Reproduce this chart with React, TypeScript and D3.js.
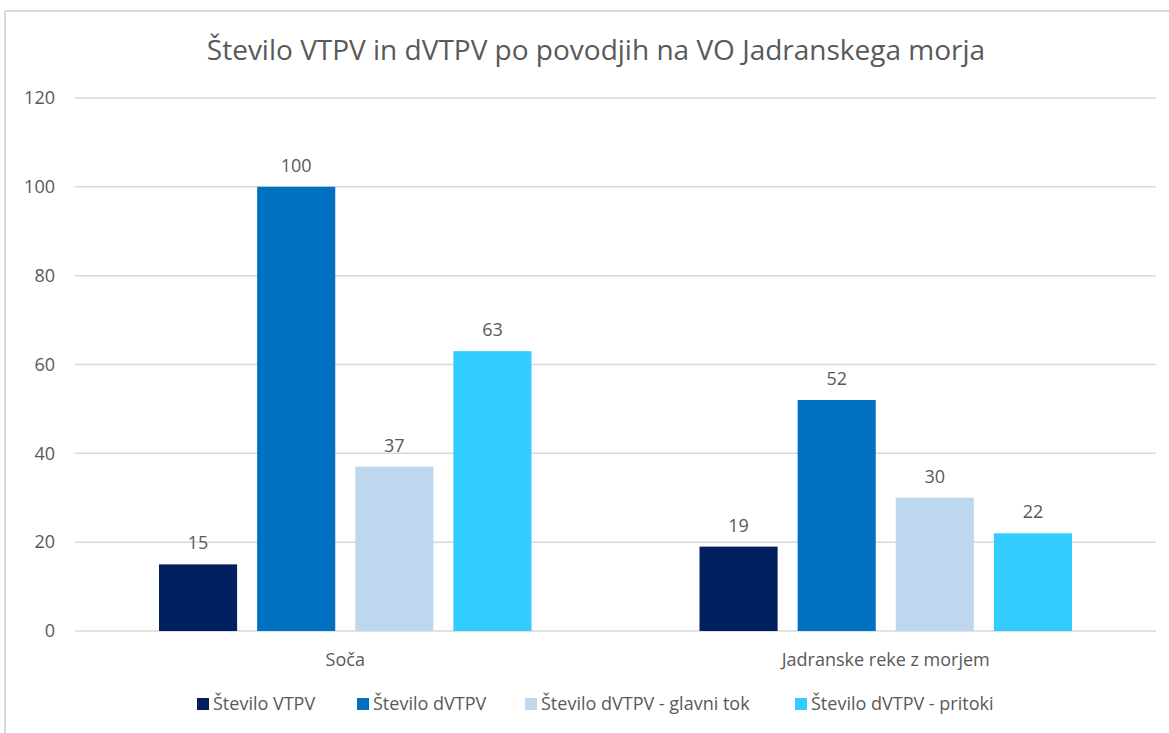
import React from "react";
import { scaleBand, scaleLinear, scaleOrdinal } from "d3";

const categories = ["Soča", "Jadranske reke z morjem"];
const seriesNames = [
  "Število VTPV",
  "Število dVTPV",
  "Število dVTPV - glavni tok",
  "Število dVTPV - pritoki",
];
const vtpv = [15, 19];
const dvtpv = [100, 52];
const glavniTok = [37, 30];
const pritoki = [63, 22];
const yTicks = [0, 20, 40, 60, 80, 100, 120];
const seriesColors = ["#002060", "#0070C0", "#BDD7EE", "#33CCFF"];

const seriesValues = [vtpv, dvtpv, glavniTok, pritoki];

const W = 1169;
const H = 733;
const plot = { left: 75, right: 1156, top: 98, bottom: 631 };
const textColor = "#595959";
const font = "'Open Sans', sans-serif";

const App = () => {
  // scales
  const x0 = scaleBand<string>()
    .domain(categories)
    .range([plot.left, plot.right]);
  const groupPad = 84;
  const x1 = scaleBand<string>()
    .domain(seriesNames)
    .range([groupPad, x0.bandwidth() - groupPad])
    .paddingInner(0.204)
    .paddingOuter(0);
  const y = scaleLinear().domain([0, 120]).range([plot.bottom, plot.top]);
  const color = scaleOrdinal<string, string>().domain(seriesNames).range(seriesColors);

  const legendX = [197, 357, 525, 795];

  return (
    <svg width={W} height={H} style={{ position: "absolute", left: 0, top: 0, background: "#fff" }}>
      {/* frame */}
      <line x1={5} x2={W} y1={11} y2={11} stroke="#D9D9D9" strokeWidth={2} />
      <line x1={5} x2={5} y1={11} y2={H} stroke="#D9D9D9" strokeWidth={2} />

      <text x={596} y={60} textAnchor="middle" fontFamily={font} fontSize={28} fill={textColor}>
        Število VTPV in dVTPV po povodjih na VO Jadranskega morja
      </text>

      {/* grid + y axis */}
      {yTicks.map((t) => (
        <g key={t}>
          <line x1={plot.left} x2={plot.right} y1={y(t)} y2={y(t)} stroke="#D9D9D9" strokeWidth={1.5} />
          <text x={55} y={y(t)} dy="0.35em" textAnchor="end" fontFamily={font} fontSize={18} fill={textColor}>
            {t}
          </text>
        </g>
      ))}

      {/* bars */}
      {categories.map((c, ci) => (
        <g key={c} transform={`translate(${x0(c)},0)`}>
          {seriesNames.map((s, si) => {
            const v = seriesValues[si][ci];
            const bx = x1(s) as number;
            return (
              <g key={s}>
                <rect x={bx} y={y(v)} width={x1.bandwidth()} height={y(0) - y(v)} fill={color(s)} />
                <text
                  x={bx + x1.bandwidth() / 2}
                  y={y(v) - 15}
                  textAnchor="middle"
                  fontFamily={font}
                  fontSize={18}
                  fill={textColor}
                >
                  {v}
                </text>
              </g>
            );
          })}
          <text
            x={x0.bandwidth() / 2}
            y={666}
            textAnchor="middle"
            fontFamily={font}
            fontSize={18}
            fill={textColor}
          >
            {c}
          </text>
        </g>
      ))}

      {/* legend */}
      {seriesNames.map((s, i) => (
        <g key={s} transform={`translate(${legendX[i]},704)`}>
          <rect x={0} y={-6} width={12} height={12} fill={color(s)} />
          <text x={16} y={0} dy="0.35em" fontFamily={font} fontSize={18} fill={textColor}>
            {s}
          </text>
        </g>
      ))}
    </svg>
  );
};

export default App;
